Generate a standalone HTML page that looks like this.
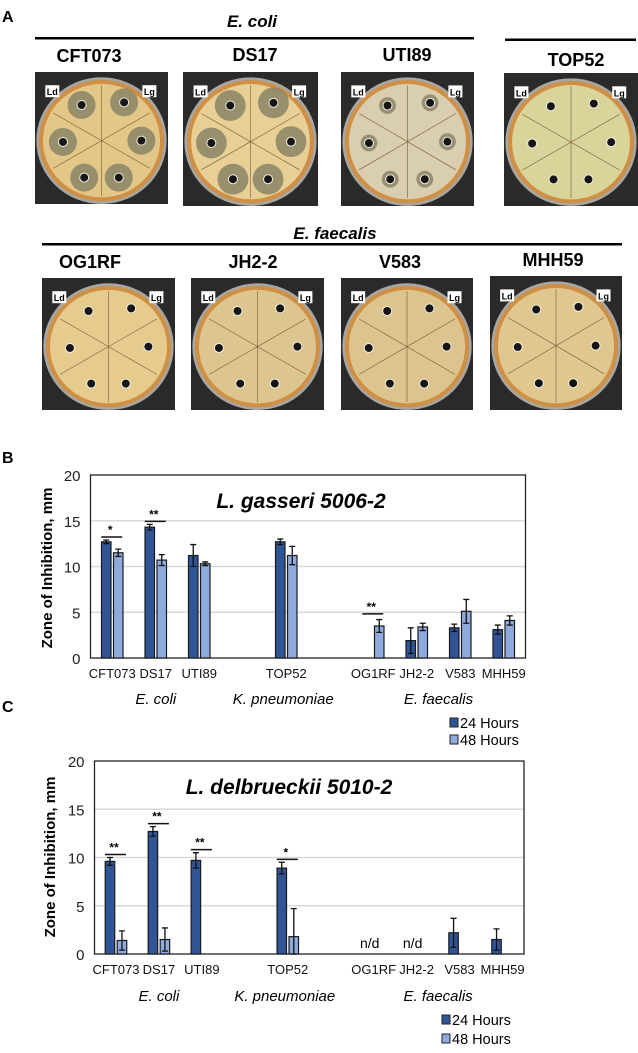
<!DOCTYPE html>
<html><head><meta charset="utf-8">
<style>
html,body{margin:0;padding:0;background:#fff;}
body{width:638px;height:1048px;overflow:hidden;position:relative;font-family:"Liberation Sans",Arial,sans-serif;}
svg text{font-family:"Liberation Sans",Arial,sans-serif;}
</style></head>
<body>
<svg id="fig" width="638" height="1048" viewBox="0 0 638 1048" xmlns="http://www.w3.org/2000/svg">
  <g id="panelA">
    <text x="2" y="22" font-size="16" font-weight="bold">A</text>
    <text x="252" y="27" font-size="17" font-weight="bold" font-style="italic" text-anchor="middle">E. coli</text>
    <rect x="35" y="37" width="439" height="2.5" fill="#000"/>
    <rect x="505" y="38.5" width="131" height="2.5" fill="#000"/>
    <text x="335" y="239" font-size="17" font-weight="bold" font-style="italic" text-anchor="middle">E. faecalis</text>
    <rect x="42" y="243" width="580" height="2.5" fill="#000"/>
  </g>
  <g id="chartB"></g>
  <g id="chartC"></g>
  <text x="2" y="712" font-size="16" font-weight="bold">C</text>
  <text x="2" y="463" font-size="16" font-weight="bold">B</text>
</svg>
<script>
// ---- Chart data ----
const categories = ["CFT073","DS17","UTI89","TOP52","OG1RF","JH2-2","V583","MHH59"];
const categorySlots = [0,1,2,4,6,7,8,9];
const groupLabels = ["E. coli","K. pneumoniae","E. faecalis"];
const yTicks = [0,5,10,15,20];
const seriesNames = ["24 Hours","48 Hours"];
const gasseri24 = [12.7,14.3,11.2,12.7,0,1.9,3.3,3.1];
const gasseri24Err = [0.2,0.3,1.2,0.3,0,1.4,0.4,0.5];
const gasseri48 = [11.5,10.7,10.3,11.2,3.5,3.4,5.1,4.1];
const gasseri48Err = [0.4,0.6,0.2,1.0,0.7,0.4,1.3,0.5];
const gasseriSig = ["*","**","","","**","","",""];
const delb24 = [9.6,12.7,9.7,8.9,0,0,2.2,1.5];
const delb24Err = [0.4,0.5,0.8,0.6,0,0,1.5,1.1];
const delb48 = [1.4,1.5,0,1.8,0,0,0,0];
const delb48Err = [1.0,1.2,0,2.9,0,0,0,0];
const delbSig = ["**","**","**","*","","","",""];
const delbND = ["","","","","n/d","n/d","",""];

const NS="http://www.w3.org/2000/svg";
function mk(parent,tag,attrs,text){const e=document.createElementNS(NS,tag);for(const k in attrs)e.setAttribute(k,attrs[k]);if(text!==undefined)e.textContent=text;parent.appendChild(e);return e;}

function drawChart(g,cfg){
  const y=v=>cfg.y0-(v/20)*(cfg.y0-cfg.y20);
  const slotW=(cfg.x1-cfg.x0)/10;
  const cx=s=>cfg.x0+slotW*(s+0.5);
  yTicks.forEach(t=>{
    if(t>0&&t<20){const l=mk(g,'line',{x1:cfg.x0,x2:cfg.x1,y1:y(t),y2:y(t),stroke:'#d9d9d9','stroke-width':1.5});
      
      }
    const tx=mk(g,'text',{x:cfg.x0-10,y:y(t)+6,'font-size':15,'text-anchor':'end',fill:'#222'},String(t));
    
    
  });
  const fr=mk(g,'rect',{x:cfg.x0,y:cfg.y20,width:cfg.x1-cfg.x0,height:cfg.y0-cfg.y20,fill:'none',stroke:'#222','stroke-width':1.3});
  
  
  const bw=9.5,gap=2.5;
  categories.forEach((c,i)=>{
    const s=categorySlots[i],x=cx(s);
    [[cfg.s24[i],cfg.e24[i],'#2f5597',x-gap/2-bw,'24h'],[cfg.s48[i],cfg.e48[i],'#8faadc',x+gap/2,'48h']].forEach(([v,e,col,bx,nm])=>{
      if(v>0){
        const r=mk(g,'rect',{x:bx,y:y(v),width:bw,height:y(0)-y(v),fill:col,stroke:'#1a1a1a','stroke-width':1.2});
        
        
        if(e>0){const m=bx+bw/2;
          const eb=mk(g,'path',{d:`M${m} ${y(v+e)}V${y(Math.max(0,v-e))}M${m-3} ${y(v+e)}H${m+3}M${m-3} ${y(Math.max(0,v-e))}H${m+3}`,stroke:'#111','stroke-width':1.3,fill:'none'});
          
          }
      }
    });
    const lb=mk(g,'text',{x:x,y:cfg.catY,'font-size':13,'text-anchor':'middle',fill:'#111'},c);
    
    
    if(cfg.sig[i]){
      const t24=cfg.s24[i]+cfg.e24[i], t48=cfg.s48[i]+cfg.e48[i];
      const top = cfg.s24[i]>0 ? t24 : t48+0.3;
      const ly=y(top)-3;
      const ln=mk(g,'line',{x1:x-11,x2:x+10,y1:ly,y2:ly,stroke:'#111','stroke-width':1.5});
      
      
      const st=mk(g,'text',{x:x-2,y:ly-3,'font-size':12,'font-weight':'bold','text-anchor':'middle'},cfg.sig[i]);
      
      
    }
    if(cfg.nd&&cfg.nd[i]){
      const nd=mk(g,'text',{x:x-4,y:y(0)-6,'font-size':14,'text-anchor':'middle'},cfg.nd[i]);
      
      
    }
  });
  const gx=[cx(1),cx(4),cx(7.5)];
  groupLabels.forEach((t,i)=>{
    const gt=mk(g,'text',{x:gx[i]+(i==1?-3:0),y:cfg.grpY,'font-size':15,'font-style':'italic','text-anchor':'middle'},t);
    
    
  });
  const tt=mk(g,'text',{x:cfg.titleX,y:cfg.titleY,'font-size':21,'font-weight':'bold','font-style':'italic','text-anchor':'middle'},cfg.title);
  
  
  const yt=mk(g,'text',{x:0,y:0,'font-size':15,'font-weight':'bold','text-anchor':'middle',transform:`translate(${cfg.ytX},${cfg.ytY}) rotate(-90)`},'Zone of Inhibition, mm');
  
  
  seriesNames.forEach((n,i)=>{
    const ly=cfg.legY+i*cfg.legGap;
    const sq=mk(g,'rect',{x:cfg.legX,y:ly-10,width:8,height:9,fill:i?'#8faadc':'#2f5597',stroke:'#222','stroke-width':1});
    
    
    const lt=mk(g,'text',{x:cfg.legX+10,y:ly,'font-size':14.5},n);
    
    
  });
}
drawChart(document.getElementById('chartB'),{x0:90.5,x1:525.5,y0:658,y20:475,s24:gasseri24,e24:gasseri24Err,s48:gasseri48,e48:gasseri48Err,sig:gasseriSig,catY:678,grpY:704,title:'L. gasseri 5006-2',titleX:301,titleY:508,ytX:52,ytY:568,legX:450,legY:728,legGap:17});
drawChart(document.getElementById('chartC'),{x0:94.5,x1:524,y0:954,y20:761,s24:delb24,e24:delb24Err,s48:delb48,e48:delb48Err,sig:delbSig,nd:delbND,catY:974,grpY:1001,title:'L. delbrueckii 5010-2',titleX:289,titleY:794,ytX:55,ytY:857,legX:442,legY:1025,legGap:19});

// ---- Plates ----
const plates=[
 {n:'CFT073',x:35,y:72,w:133,h:132,lx:89,ly:62,zone:1,bg:'#e3c788'},
 {n:'DS17',x:183,y:72,w:135,h:134,lx:255,ly:61,zone:1.1,bg:'#e8cf95'},
 {n:'UTI89',x:341,y:72,w:133,h:134,lx:407,ly:61,zone:0.6,bg:'#d9cfb0'},
 {n:'TOP52',x:504,y:73,w:134,h:133,lx:576,ly:66,zone:0,bg:'#d8d49a'},
 {n:'OG1RF',x:42,y:278,w:133,h:132,lx:90,ly:268,zone:0,bg:'#e5cc8e'},
 {n:'JH2-2',x:191,y:278,w:133,h:132,lx:253,ly:268,zone:0,bg:'#ddc58f'},
 {n:'V583',x:341,y:278,w:132,h:132,lx:400,ly:268,zone:0,bg:'#dcc48f'},
 {n:'MHH59',x:490,y:276,w:132,h:134,lx:553,ly:266,zone:0,bg:'#e0c790'}];
const A=document.getElementById('panelA');
const holes=[[0.35,0.25],[0.67,0.23],[0.21,0.53],[0.8,0.52],[0.37,0.8],[0.63,0.8]];
plates.forEach(p=>{
  const g=mk(A,'g',{});
  
  
  const lab=mk(A,'text',{x:p.lx,y:p.ly,'font-size':18,'font-weight':'bold','text-anchor':'middle'},p.n);
  
  
  mk(g,'rect',{x:p.x,y:p.y,width:p.w,height:p.h,fill:'#2b2a2a'});
  const cx=p.x+p.w*0.5,cy=p.y+p.h*0.52;
  mk(g,'ellipse',{cx:cx,cy:cy,rx:p.w*0.49,ry:p.h*0.48,fill:'#a8a6a0'});
  mk(g,'ellipse',{cx:cx,cy:cy,rx:p.w*0.47,ry:p.h*0.46,fill:'#cf8f45'});
  mk(g,'ellipse',{cx:cx,cy:cy,rx:p.w*0.44,ry:p.h*0.43,fill:p.bg});
  for(let k=0;k<3;k++){const a=Math.PI/6+k*Math.PI/3;
    mk(g,'line',{x1:cx-Math.cos(a)*p.w*0.42,y1:cy-Math.sin(a)*p.h*0.42,x2:cx+Math.cos(a)*p.w*0.42,y2:cy+Math.sin(a)*p.h*0.42,stroke:'#7a5a3a','stroke-width':0.6});}
  holes.forEach(([hx,hy])=>{
    const X=p.x+p.w*hx,Y=p.y+p.h*hy;
    if(p.zone>0)mk(g,'circle',{cx:X,cy:Y,r:14*p.zone,fill:'#8a8466',opacity:0.85});
    mk(g,'circle',{cx:X,cy:Y,r:5,fill:'#f2efe6'});
    mk(g,'circle',{cx:X,cy:Y,r:4,fill:'#151515'});
  });
  [['Ld',0.13],['Lg',0.86]].forEach(([t,fx])=>{
    mk(g,'rect',{x:p.x+p.w*fx-7,y:p.y+p.h*0.1,width:14,height:12,fill:'#fff'});
    mk(g,'text',{x:p.x+p.w*fx,y:p.y+p.h*0.1+10,'font-size':9,'font-weight':'bold','text-anchor':'middle'},t);
  });
});
</script>
</body></html>
